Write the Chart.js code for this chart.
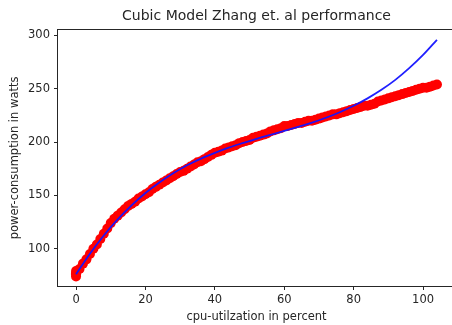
<!DOCTYPE html>
<html lang="en">
<head>
  <meta charset="UTF-8">
  <title>Cubic Model Zhang et. al performance</title>
  <style>
    html, body { margin: 0; padding: 0; overflow: hidden; background: #fff; }
    .chartBox { width: 460px; height: 325px; }
  </style>
</head>
<body>
  <div class="chartBox">
    <canvas id="cubicChart" width="460" height="325"></canvas>
  </div>

  <script src="https://cdn.jsdelivr.net/npm/chart.js"></script>

  <script>
    // Measured samples: cpu utilization (%) vs. power draw (W)
    const cpuUtil = [
      0, 0, 0, 0, 1, 2, 3, 4, 5, 6, 7, 8, 9, 10, 11, 12, 13, 14, 15, 16, 17, 18, 19, 20,
      21, 22, 23, 24, 25, 26, 27, 28, 29, 30, 31, 32, 33, 34, 35, 36, 37, 38, 39, 40,
      41, 42, 43, 44, 45, 46, 47, 48, 49, 50, 51, 52, 53, 54, 55, 56, 57, 58, 59, 60,
      61, 62, 63, 64, 65, 66, 67, 68, 69, 70, 71, 72, 73, 74, 75, 76, 77, 78, 79, 80,
      81, 82, 83, 84, 85, 86, 87, 88, 89, 90, 91, 92, 93, 94, 95, 96, 97, 98, 99, 100,
      101, 102, 103, 104
    ];
    const powerWatts = [
      77, 74, 79, 76, 81, 86, 90, 95, 100, 104, 109, 114, 119, 124, 128, 131, 134, 137, 140, 142, 144, 147, 149, 151,
      153, 156, 158, 160, 162, 164, 166, 168, 170, 172, 173, 175, 177, 179, 181, 182, 184, 186, 188, 190,
      191, 192, 194, 195, 196, 197, 199, 200, 201, 202, 204, 205, 206, 207, 208, 210, 211, 212, 213, 215,
      215, 216, 217, 218, 218, 219, 220, 220, 221, 222, 223, 224, 225, 226, 226, 227, 228, 229, 230, 231,
      232, 233, 234, 234, 235, 236, 238, 239, 240, 241, 242, 243, 244, 245, 246, 247, 248, 249, 250, 251,
      251, 252, 253, 254
    ];

    // Fitted cubic model, sampled along the utilization range
    const modelUtil = [0, 4, 8, 12, 16, 20, 24, 28, 32, 36, 40, 44, 48, 52, 56, 60, 64, 68, 72, 76, 80, 84, 88, 92, 96, 100, 104];
    const modelWatts = [76, 95.3, 112.4, 127.4, 140.6, 152.2, 162.1, 170.7, 178.2, 184.5, 189.9, 194.8, 199, 203, 206.7, 210.4,
      214.2, 218.2, 222.8, 228, 234, 241, 249, 258.3, 269.3, 281.7, 295.9];

    const xTicks = [0, 20, 40, 60, 80, 100];
    const yTicks = [100, 150, 200, 250, 300];

    const FONT = 'DejaVu Sans';
    const INK = '#262626';

    const toPoints = (xs, ys) => xs.map((x, i) => ({ x: x, y: ys[i] }));

    // matplotlib-style frame around the plot area
    const frame = {
      id: 'frame',
      afterDatasetsDraw(chart) {
        const { ctx, chartArea: a } = chart;
        ctx.save();
        ctx.strokeStyle = INK;
        ctx.lineWidth = 1;
        ctx.strokeRect(Math.round(a.left) - 0.5, Math.round(a.top) - 0.5,
          Math.round(a.right - a.left) + 1, Math.round(a.bottom - a.top) + 1);
        ctx.restore();
      }
    };

    new Chart(document.getElementById('cubicChart'), {
      type: 'scatter',
      data: {
        datasets: [
          {
            label: 'cubic model',
            data: toPoints(modelUtil, modelWatts),
            showLine: true,
            borderColor: 'rgba(20, 20, 255, 0.95)',
            borderWidth: 1.8,
            pointRadius: 0,
            cubicInterpolationMode: 'monotone',
            order: 0
          },
          {
            label: 'measured',
            data: toPoints(cpuUtil, powerWatts),
            backgroundColor: '#ff0000',
            borderWidth: 0,
            pointRadius: 5,
            order: 1
          }
        ]
      },
      options: {
        responsive: false,
        animation: false,
        layout: { padding: { left: 0, right: 5, top: 0, bottom: 0 } },
        plugins: {
          legend: { display: false },
          tooltip: { enabled: false },
          title: {
            display: true,
            fullSize: false,
            text: 'Cubic Model Zhang et. al performance',
            color: INK,
            font: { family: FONT, size: 14, weight: 'normal' },
            padding: { top: 8, bottom: 5 }
          }
        },
        scales: {
          x: {
            type: 'linear',
            min: -5.2,
            max: 109.2,
            afterBuildTicks: s => { s.ticks = xTicks.map(v => ({ value: v })); },
            afterFit: s => { s.height = 39; },
            border: { display: false },
            grid: { drawOnChartArea: false, drawTicks: true, tickLength: 4, color: INK },
            ticks: { color: INK, font: { family: FONT, size: 11.5 }, padding: 3, maxRotation: 0 },
            title: {
              display: true,
              text: 'cpu-utilzation in percent',
              color: INK,
              font: { family: FONT, size: 11.5 },
              padding: { top: 0, bottom: 1.4 }
            }
          },
          y: {
            type: 'linear',
            min: 65,
            max: 305.3,
            afterBuildTicks: s => { s.ticks = yTicks.map(v => ({ value: v })); },
            afterFit: s => { s.width = 58; },
            border: { display: false },
            grid: { drawOnChartArea: false, drawTicks: true, tickLength: 4, color: INK },
            ticks: { color: INK, font: { family: FONT, size: 11.5 }, padding: 4 },
            title: {
              display: true,
              text: 'power-consumption in watts',
              color: INK,
              font: { family: FONT, size: 11.5 },
              padding: { top: 8.6, bottom: 0 }
            }
          }
        }
      },
      plugins: [frame]
    });
  </script>
</body>
</html>
